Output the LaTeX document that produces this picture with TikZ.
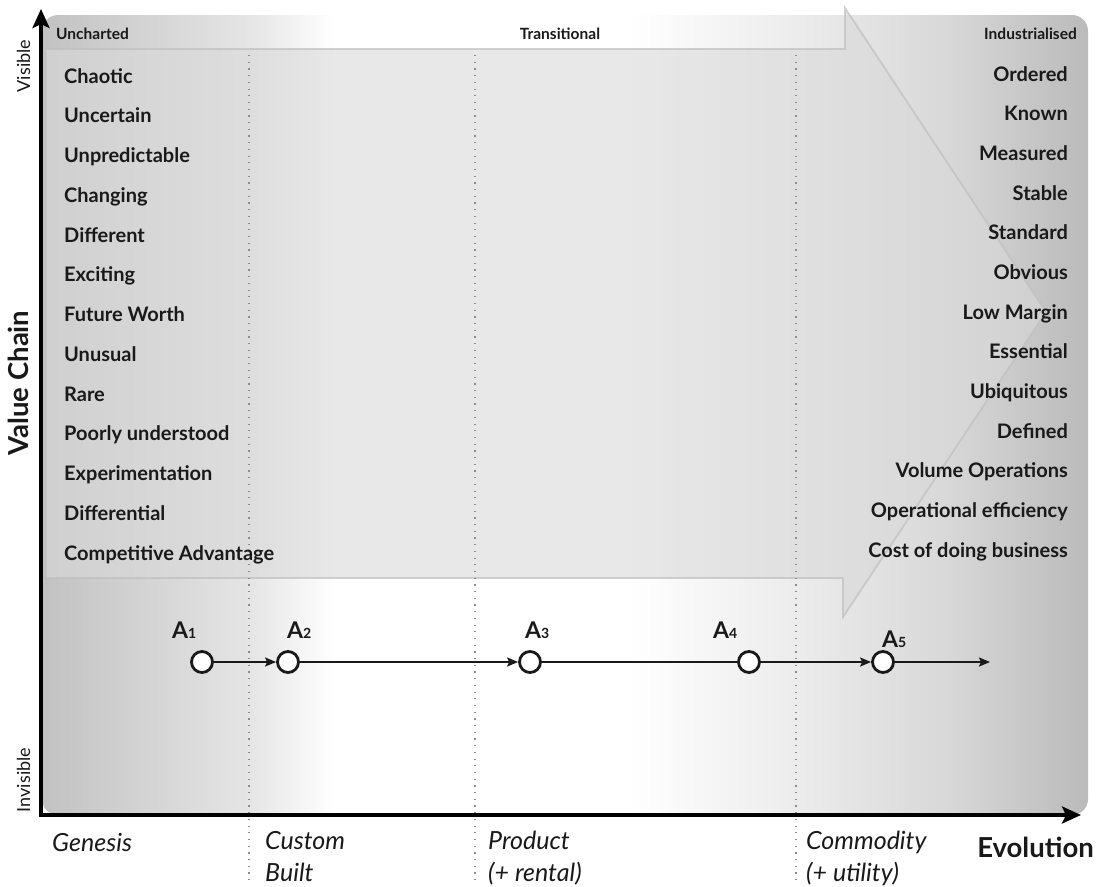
\documentclass[tikz,border=0pt]{standalone}
\usepackage{fontspec}
\setmainfont{Lato}
\usetikzlibrary{arrows.meta}
\definecolor{bgA}{gray}{0.76}
\definecolor{bgB}{gray}{0.90}
\definecolor{bgC}{gray}{0.925}
\definecolor{bgD}{gray}{0.85}
\definecolor{bgE}{gray}{0.73}
\definecolor{arrowfill}{gray}{0.85}
\definecolor{ink}{gray}{0.1}
\pgfdeclarehorizontalshading{bgshade}{100bp}{color(0bp)=(bgA); color(25bp)=(bgA); color(35bp)=(bgB); color(39bp)=(white); color(53bp)=(white); color(61bp)=(bgC); color(68bp)=(bgD); color(75bp)=(bgE); color(100bp)=(bgE)}
\begin{document}
\begin{tikzpicture}[x=1pt,y=-1pt,
  listL/.style={font=\fontsize{20}{22}\selectfont\bfseries, anchor=base west, inner sep=0pt, text=ink},
  listR/.style={font=\fontsize{20}{22}\selectfont\bfseries, anchor=base east, inner sep=0pt, text=ink},
  toplabel/.style={font=\fontsize{15.5}{17}\selectfont\bfseries, inner sep=0pt, text=ink},
  sidelabel/.style={font=\fontsize{18}{20}\selectfont, rotate=90, anchor=base, inner sep=0pt, text=ink},
  stage/.style={font=\fontsize{25}{32}\selectfont\itshape, align=left, anchor=base west, inner sep=0pt, text=ink},
  axislabel/.style={font=\fontsize{27.5}{30}\selectfont\bfseries, inner sep=0pt, text=ink},
  axisline/.style={line width=4pt, draw=black, {Stealth[length=19pt,width=17pt,inset=4pt]}-{Stealth[length=19pt,width=17pt,inset=4pt]}},
  dotline/.style={draw=gray!90, line width=1.5pt, dash pattern=on 1.2pt off 5.5pt},
  arrowshape/.style={fill=arrowfill, fill opacity=0.6, draw=gray!50, draw opacity=0.7, line width=1.8pt},
  anode/.style={circle, draw=black!90, line width=2.8pt, fill=white, minimum size=21pt, inner sep=0pt},
  alabel/.style={font=\fontsize{23}{24}\selectfont\bfseries, anchor=base west, inner sep=0pt, text=ink},
  conn/.style={draw=black!90, line width=2pt},
  connarrow/.style={conn, -{Stealth[length=11pt,width=9pt,inset=2pt]}}
]
\useasboundingbox (0,0) rectangle (1097,886);
% background
\shade[shading=bgshade, rounded corners=16pt] (42,15) rectangle (1088,815);
% big evolution arrow
\path[arrowshape] (46,49) -- (845,49) -- (845,8) -- (1046,312) -- (843,617) -- (843,578) -- (46,578) -- cycle;
% dotted stage separators
\draw[dotline] (249,55) -- (249,884);
\draw[dotline] (475,55) -- (475,884);
\draw[dotline] (796,55) -- (796,884);
% top labels
\node[toplabel, anchor=base west] (unch) at (56,39) {Uncharted};
\node[toplabel, anchor=base] (trans) at (560,39) {Transitional};
\node[toplabel, anchor=base east] (indu) at (1077,39) {Industrialised};
% left list
\foreach \t [count=\i] in {Chaotic, Uncertain, Unpredictable, Changing, Different, Exciting, Future Worth, Unusual, Rare, Poorly understood, Experimentation, Differential, Competitive Advantage}
  \node[listL] (l\i) at (64, {83+39.75*(\i-1)}) {\t};
% right list
\foreach \t [count=\i] in {Ordered, Known, Measured, Stable, Standard, Obvious, Low Margin, Essential, Ubiquitous, Defined, Volume Operations, Operational efficiency, Cost of doing business}
  \node[listR] (r\i) at (1068, {81+39.67*(\i-1)}) {\t};
% axes
\coordinate (O) at (41,815);
\coordinate (ytip) at (41,9);
\coordinate (xtip) at (1081,815);
\draw[axisline] (ytip) -- (O) -- (xtip);
\node[sidelabel] (vis) at (30,66) {Visible};
\node[sidelabel] (invis) at (30,780) {Invisible};
\node[axislabel, rotate=90, anchor=base] (vc) at (28,383) {Value Chain};
\node[axislabel, anchor=base east] (evo) at (1094,857) {Evolution};
% stage labels (base anchor = baseline of last line)
\node[stage] (gen) at (52,851) {Genesis};
\node[stage] (cust) at (265,881) {Custom\\Built};
\node[stage] (prod) at (488,881) {Product\\(+ rental)};
\node[stage] (comm) at (806,881) {Commodity\\(+ utility)};
% components
\node[anode] (A1) at (202,662) {};
\node[anode] (A2) at (288,662) {};
\node[anode] (A3) at (530,662) {};
\node[anode] (A4) at (749,662) {};
\node[anode] (A5) at (883,662) {};
\coordinate (Aend) at (990,662);
\node[alabel] (LA1) at (172,638) {A{\fontsize{14}{14}\selectfont 1}};
\node[alabel] (LA2) at (287,638) {A{\fontsize{14}{14}\selectfont 2}};
\node[alabel] (LA3) at (525,638) {A{\fontsize{14}{14}\selectfont 3}};
\node[alabel] (LA4) at (713,638) {A{\fontsize{14}{14}\selectfont 4}};
\node[alabel] (LA5) at (882,647) {A{\fontsize{14}{14}\selectfont 5}};
\draw[connarrow] (A1) -- (A2);
\draw[connarrow] (A2) -- (A3);
\draw[conn] (A3) -- (A4);
\draw[connarrow] (A4) -- (A5);
\draw[connarrow] (A5) -- (Aend);
\end{tikzpicture}
\end{document}
